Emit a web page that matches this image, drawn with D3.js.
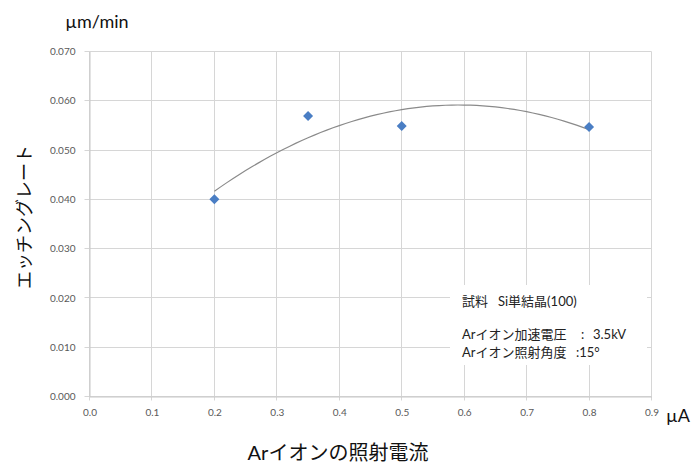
<!DOCTYPE html>
<html>
<head>
<meta charset="utf-8">
<script src="https://cdn.jsdelivr.net/npm/d3@7"></script>
<style>
  html, body { margin: 0; padding: 0; background: #fff; }
  svg { display: block; }
  text { font-family: Lato, "Noto Sans CJK JP", sans-serif; }
</style>
</head>
<body>
<svg id="chart" width="692" height="468"></svg>
<script>
// Ion beam current (µA) and measured etching rate (µm/min)
const currents = [0.2, 0.35, 0.5, 0.8];
const etchRates = [0.0400, 0.0569, 0.0549, 0.0547];

const xTicks = [0, 0.1, 0.2, 0.3, 0.4, 0.5, 0.6, 0.7, 0.8, 0.9];
const yTicks = [0, 0.01, 0.02, 0.03, 0.04, 0.05, 0.06, 0.07];

const yTitle = "エッチングレート";
const xTitle = "Arイオンの照射電流";
const yUnit = "µm/min";
const xUnit = "µA";
const noteLines = [
  ["試料", "Si単結晶(100)"],
  ["Arイオン加速電圧", ":", "3.5kV"],
  ["Arイオン照射角度", ":15°"]
];

const svg = d3.select("#chart");
const plot = { left: 89.5, right: 651.5, top: 51.5, bottom: 396.5 };

const x = d3.scaleLinear().domain([0, 0.9]).range([plot.left, plot.right]);
const y = d3.scaleLinear().domain([0, 0.07]).range([plot.bottom, plot.top]);
const crisp = v => Math.round(v - 0.5) + 0.5;

// grid
const grid = svg.append("g");
grid.selectAll(".gx").data(xTicks).join("line")
  .attr("x1", d => crisp(x(d))).attr("x2", d => crisp(x(d)))
  .attr("y1", plot.top).attr("y2", plot.bottom + 4)
  .attr("stroke", "#d6d6d6").attr("stroke-width", 1);
grid.selectAll(".gy").data(yTicks).join("line")
  .attr("y1", d => crisp(y(d))).attr("y2", d => crisp(y(d)))
  .attr("x1", plot.left - 5).attr("x2", plot.right)
  .attr("stroke", "#d6d6d6").attr("stroke-width", 1);

// axes
const xAxis = d3.axisBottom(x).tickValues(xTicks).tickFormat(d3.format(".1f")).tickSize(0).tickPadding(12);
const yAxis = d3.axisLeft(y).tickValues(yTicks).tickFormat(d3.format(".3f")).tickSize(0).tickPadding(14);

const gx = svg.append("g").attr("transform", `translate(0,${plot.bottom})`).call(xAxis);
const gy = svg.append("g").attr("transform", `translate(${plot.left},0)`).call(yAxis);
[gx, gy].forEach(g => {
  g.select(".domain").attr("stroke", "#c8c8c8");
  g.selectAll("text").attr("fill", "#595959").style("font-size", "10px")
    .style("font-family", "Lato, 'Liberation Sans', sans-serif");
});

// annotation box (covers grid)
svg.append("rect").attr("x", 450).attr("y", 285).attr("width", 197).attr("height", 80).attr("fill", "#fff");

// quadratic least-squares trendline
function quadFit(xs, ys) {
  const S = k => d3.sum(xs, v => Math.pow(v, k));
  const T = k => d3.sum(xs, (v, i) => Math.pow(v, k) * ys[i]);
  const A = [[xs.length, S(1), S(2)], [S(1), S(2), S(3)], [S(2), S(3), S(4)]];
  const B = [T(0), T(1), T(2)];
  for (let i = 0; i < 3; i++) {
    for (let j = i + 1; j < 3; j++) {
      const f = A[j][i] / A[i][i];
      for (let k = i; k < 3; k++) A[j][k] -= f * A[i][k];
      B[j] -= f * B[i];
    }
  }
  const c = [0, 0, 0];
  for (let i = 2; i >= 0; i--) {
    let s = B[i];
    for (let k = i + 1; k < 3; k++) s -= A[i][k] * c[k];
    c[i] = s / A[i][i];
  }
  return v => c[0] + c[1] * v + c[2] * v * v;
}
const fit = quadFit(currents, etchRates);
const xMin = d3.min(currents), xMax = d3.max(currents);
const samples = d3.range(0, 61).map(i => xMin + (xMax - xMin) * i / 60);
svg.append("path")
  .datum(samples)
  .attr("d", d3.line().x(d => x(d)).y(d => y(fit(d))))
  .attr("fill", "none").attr("stroke", "#8a8a8a").attr("stroke-width", 1.2);

// markers
const diamond = "M0,-5L5,0L0,5L-5,0Z";
svg.selectAll(".pt").data(currents).join("path")
  .attr("d", diamond)
  .attr("transform", (d, i) => `translate(${x(d)},${y(etchRates[i])})`)
  .attr("fill", "#4a7ec4");

// titles
svg.append("text").attr("x", 97).attr("y", 28).attr("text-anchor", "middle")
  .style("font-size", "18px").attr("fill", "#111").text(yUnit);
svg.append("text").attr("x", 678).attr("y", 422).attr("text-anchor", "middle")
  .style("font-size", "18px").attr("fill", "#111").text(xUnit);
svg.append("text").attr("x", 338).attr("y", 460).attr("text-anchor", "middle")
  .style("font-size", "20px").attr("fill", "#111").text(xTitle);
svg.append("text").attr("transform", "translate(31,217) rotate(-90)").attr("text-anchor", "middle")
  .style("font-size", "18px").attr("fill", "#111").text(yTitle);

// annotation text
const note = svg.append("g").style("font-size", "13px").attr("fill", "#222");
note.append("text").attr("x", 462).attr("y", 306).text(noteLines[0][0]);
note.append("text").attr("x", 498).attr("y", 306).text(noteLines[0][1]);
note.append("text").attr("x", 462).attr("y", 339).text(noteLines[1][0]);
note.append("text").attr("x", 581).attr("y", 339).text(noteLines[1][1]);
note.append("text").attr("x", 593).attr("y", 339).text(noteLines[1][2]);
note.append("text").attr("x", 462).attr("y", 357).text(noteLines[2][0]);
note.append("text").attr("x", 576).attr("y", 357).text(noteLines[2][1]);
</script>
</body>
</html>
